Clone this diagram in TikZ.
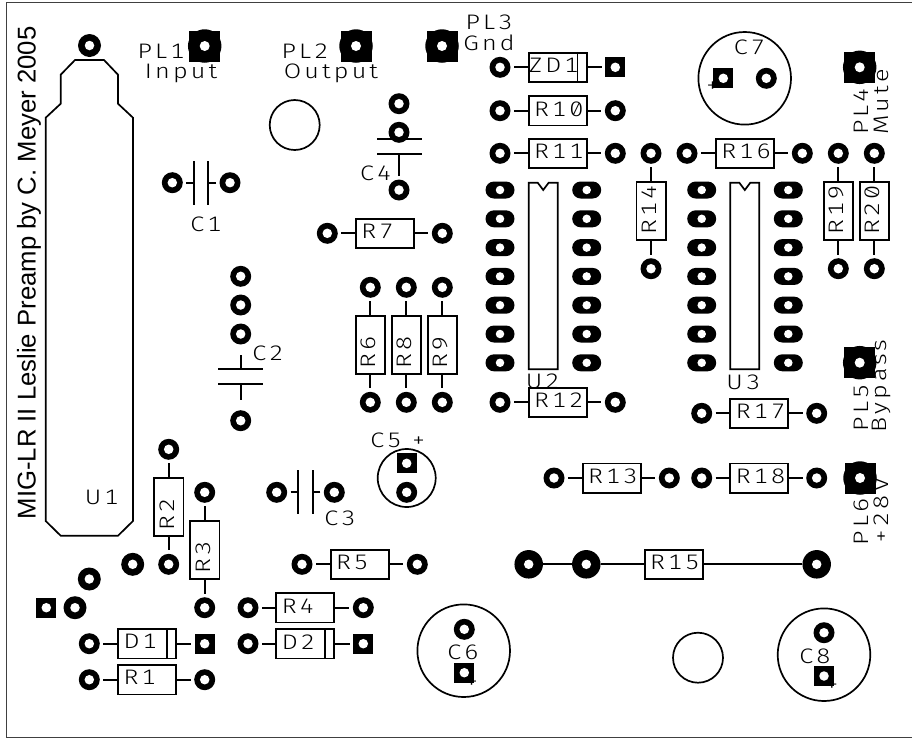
\documentclass[tikz,border=0pt]{standalone}
\usepackage{fontspec}
\setmainfont{Liberation Sans}
\newfontfamily\pcbfont[LetterSpace = 15, FakeStretch = 1.2, RawFeature = {+zero;+tnum}]{Fira Sans Light}
\usetikzlibrary{
    shapes.misc,
    calc
}
\tikzset {
    hole/.style = {
        append after command = {
            node [circle, fill = white, minimum size = #1, inner sep = 0pt] at (\tikzlastnode.center) {}
        }
    },
    pad/.style = {circle, fill, minimum size = 21pt, inner sep = 0pt, outer sep = 3.5pt, hole = 9.5pt},
    wide pad/.style = {circle, fill, minimum size = 23pt, inner sep = 0pt, hole = 9.5pt},
    big pad/.style = {circle, fill, minimum size = 28.5pt, inner sep = 0pt, outer sep = 0pt, hole = 9.5pt},
    square pad/.style = {rectangle, fill, minimum size = 20pt, inner sep = 0pt, outer sep = 3.5pt, hole = 9.5pt},
    oval pad/.style = {rounded rectangle, fill, minimum width = 29pt, minimum height = 17pt, inner sep = 0pt, hole = 8.5pt},
    plug base/.style = {rectangle, fill, minimum size = 31pt, inner sep = 0pt},
    plug/.style = {circle, fill, minimum size = 33.5pt, inner sep = 0pt, hole = 10pt},
    lead/.style = {line width = 1.7pt},
    outline/.style = {line width = 1.7pt, line join = miter},
    resistor/.style = {
        rectangle, draw, fill = white, line width = 1.7pt,
        minimum width = 58pt, minimum height = 29.3pt,
        inner sep = 0pt, text width = 47pt, text depth = 4pt, align = left,
        font = \pcbtext
    },
    vresistor/.style = {resistor, rotate = 90},
    hplate/.style = {rectangle, fill, minimum width = 45pt, minimum height = 1.7pt, inner sep = 0pt},
    vplate/.style = {rectangle, fill, minimum width = 1.7pt, minimum height = 44pt, inner sep = 0pt},
    body/.style = {circle, draw, line width = 1.7pt, minimum size = #1, inner sep = 0pt},
    silk/.style = {font = \pcbtext, inner sep = 0pt},
    vsilk/.style = {silk, rotate = 90}
}
\newcommand{\pcbtext}{\pcbfont\fontsize{21}{25}\selectfont}

\begin{document}
\begin{tikzpicture}[x = 1pt, y = -1pt]
    \useasboundingbox (0, 0) rectangle (912, 742);
    \draw [line width = 1pt, black!75] (912, 2.5) -- (6.5, 2.5) -- (6.5, 737) -- (912, 737);
    \node (title) [rotate = 90, inner sep = 0pt, font = \fontsize{25.7}{30}\selectfont] at (29, 273) {MIG-LR II Leslie Preamp by C. Meyer 2005};
    %
    % round bodies and mounting holes
    \node (c5body) [body = 58pt] at (406.7, 478) {};
    \node (c6body) [body = 92.6pt] at (463.7, 650.7) {};
    \node (c7body) [body = 92.6pt] at (744.7, 78.3) {};
    \node (c8body) [body = 92.6pt] at (824, 654.7) {};
    \node (holea) [body = 50pt] at (294.7, 125) {};
    \node (holeb) [body = 50pt] at (698, 657.7) {};
    %
    % terminals
    \foreach \n/\x/\y in {pl1/204.7/46, pl2/356/46, pl3/442/46, pl4/859.7/67.3, pl5/859.7/362.7, pl6/860/478} {
        \node (\n base) [plug base] at (\x, \y) {};
        \node (\n) [plug] at (\x, \y) {};
    }
    \node (pl1name) [silk] at (161, 51) {PL1};
    \node (pl1text) [silk] at (181, 73) {Input};
    \node (pl2name) [silk] at (305, 51) {PL2};
    \node (pl2text) [silk] at (331, 73) {Output};
    \node (pl3name) [silk] at (489, 22) {PL3};
    \node (pl3text) [silk] at (489, 43) {Gnd};
    \node (pl4name) [vsilk] at (861, 111.5) {PL4};
    \node (pl4text) [vsilk] at (881, 102) {Mute};
    \node (pl5name) [vsilk] at (861, 408) {PL5};
    \node (pl5text) [vsilk] at (881, 386) {Bypass};
    \node (pl6name) [vsilk] at (861, 522) {PL6};
    \node (pl6text) [vsilk] at (881, 511) {+28V};
    %
    % regulator
    \draw [outline] (75, 60) -- (104, 60) -- (118, 74.7) -- (118, 103.7) -- (133, 117.7)
        -- (133, 521) -- (118, 535.7) -- (60.7, 535.7) -- (45.7, 521) -- (45.7, 117.7)
        -- (60.7, 103.7) -- (60.7, 74.7) -- cycle;
    \node (u1name) [silk] at (101.7, 497.7) {U1};
    \node (u1top) [wide pad] at (89.5, 45.5) {};
    \node (u1a) [wide pad] at (132.7, 564.3) {};
    \node (u1b) [wide pad] at (89.3, 579) {};
    \node (u1c) [square pad] at (46.3, 607.7) {};
    \node (u1d) [wide pad] at (75, 607.7) {};
    %
    % dual in line packages
    \foreach \ic/\x/\l/\r in {u2/528.7/500/586.7, u3/730.3/701.7/788.3} {
        \draw [outline] (\x, 182.7) -- (\x + 9, 182.7) -- (\x + 14.5, 190) -- (\x + 20, 182.7)
            -- (\x + 29, 182.7) -- (\x + 29, 369.3) -- (\x, 369.3) -- cycle;
        \foreach \i in {0, ..., 6} {
            \node (\ic l\i) [oval pad] at (\l, 190 + 28.8 * \i) {};
            \node (\ic r\i) [oval pad] at (\r, 190 + 28.8 * \i) {};
        }
    }
    \node (u2name) [silk] at (542.7, 381) {U2};
    \node (u3name) [silk] at (743.3, 382.7) {U3};
    %
    % horizontal resistors
    \foreach \n/\t/\a/\c/\b/\y in {
        r1/R1/89.3/147/204.7/679.7,
        r4/R4/248/305.3/363.3/607.7,
        r5/R5/302/359.7/417.3/564.3,
        r7/R7/327.3/384.8/442.3/233.3,
        r10/R10/500/557.7/615.3/110.7,
        r11/R11/500/557.7/615.3/153.3,
        r12/R12/500/557.7/615.3/402.3,
        r13/R13/554/611.7/669.3/478,
        r16/R16/687/744.8/802.3/153.3,
        r17/R17/701.7/759.3/816.7/413.3,
        r18/R18/701.7/759.3/816.7/478
    } {
        \node (\n a) [pad] at (\a, \y) {};
        \node (\n b) [pad] at (\b, \y) {};
        \node (\n) [resistor] at (\c, \y) {\t};
        \draw [lead] (\n a) -- (\n) -- (\n b);
    }
    %
    % upright resistors
    \foreach \n/\t/\x/\a/\c/\b in {
        r2/R2/168.7/449.3/507/564.3,
        r3/R3/204.7/492.3/550/607.7,
        r6/R6/370.3/287.3/344.8/402.3,
        r8/R8/406.3/287.3/344.8/402.3,
        r9/R9/442.3/287.3/344.8/402.3,
        r14/R14/651/153.3/211/268.7,
        r19/R19/838.3/153.3/211/268.7,
        r20/R20/874.3/153.3/211/268.7
    } {
        \node (\n a) [pad] at (\x, \a) {};
        \node (\n b) [pad] at (\x, \b) {};
        \node (\n) [vresistor] at (\x, \c) {\t};
        \draw [lead] (\n a) -- (\n) -- (\n b);
    }
    %
    % the long one
    \node (r15a) [big pad] at (528.7, 564.3) {};
    \node (r15b) [big pad] at (586.3, 564.3) {};
    \node (r15c) [big pad] at (816.7, 564.3) {};
    \node (r15) [resistor] at (673.7, 564.3) {R15};
    \draw [lead] (r15a) -- (r15b) -- (r15) -- (r15c);
    %
    % diodes
    \foreach \n/\t/\a/\c/\b/\y in {
        d1/D1/89.3/147/204.7/643.7,
        d2/D2/248/305.3/363.3/643.7,
        zd1/\hspace*{-5pt}ZD1/500/557.7/615.3/67.3
    } {
        \node (\n a) [pad] at (\a, \y) {};
        \node (\n b) [square pad] at (\b, \y) {};
        \node (\n) [resistor] at (\c, \y) {\t};
        \draw [lead] (\n a) -- (\n) -- (\n b);
        \draw [lead] ($(\n.north east) + (-10, 0)$) -- ($(\n.south east) + (-10, 0)$);
    }
    %
    % capacitors
    \node (c1a) [pad] at (172.3, 182.7) {};
    \node (c1b) [pad] at (230, 182.7) {};
    \node (c1p) [vplate] at (194, 182.7) {};
    \node (c1q) [vplate] at (208.3, 182.7) {};
    \draw [lead] (c1a) -- (c1p);
    \draw [lead] (c1b) -- (c1q);
    \node (c1name) [silk] at (206, 224) {C1};
    %
    \node (c2a) [pad] at (240.7, 276.3) {};
    \node (c2b) [pad] at (240.7, 305) {};
    \node (c2c) [pad] at (240.7, 334) {};
    \node (c2d) [pad] at (240.7, 420.7) {};
    \node (c2p) [hplate] at (240.7, 369.3) {};
    \node (c2q) [hplate] at (240.7, 384.3) {};
    \draw [lead, shorten < = 7pt] (c2c) -- (c2p);
    \draw [lead, shorten < = 7pt] (c2d) -- (c2q);
    \node (c2name) [silk] at (268, 353) {C2};
    %
    \node (c3a) [pad] at (276.7, 492.3) {};
    \node (c3b) [pad] at (334.3, 492.3) {};
    \node (c3p) [vplate] at (298.3, 492.3) {};
    \node (c3q) [vplate] at (313, 492.3) {};
    \draw [lead] (c3a) -- (c3p);
    \draw [lead] (c3b) -- (c3q);
    \node (c3name) [silk] at (340, 518.7) {C3};
    %
    \node (c4a) [pad] at (399, 103.7) {};
    \node (c4p) [hplate] at (399, 139.3) {};
    \node (c4b) [pad] at (399, 132.3) {};
    \node (c4q) [hplate] at (399, 154) {};
    \node (c4c) [pad] at (399, 190) {};
    \draw [lead] (c4c) -- (c4q);
    \node (c4name) [silk] at (375.7, 173.7) {C4};
    %
    \node (c5a) [square pad] at (406.7, 463.3) {};
    \node (c5b) [pad] at (406.7, 492.3) {};
    \node (c5name) [silk] at (398, 440.3) {C5 +};
    %
    \node (c6a) [pad] at (464.3, 629.3) {};
    \node (c6b) [square pad] at (464.3, 672.7) {};
    \node (c6name) [silk] at (463, 652) {C6};
    \node (c6plus) [silk] at (471.7, 682.7) {+};
    %
    \node (c7a) [square pad] at (723.3, 78.3) {};
    \node (c7b) [pad] at (766.3, 78.3) {};
    \node (c7name) [silk] at (749.3, 47.3) {C7};
    \node (c7plus) [silk] at (712.7, 87.3) {+};
    %
    \node (c8a) [pad] at (824, 632.7) {};
    \node (c8b) [square pad] at (824, 676) {};
    \node (c8name) [silk] at (815, 656) {C8};
    \node (c8plus) [silk] at (832, 686) {+};
\end{tikzpicture}
\end{document}
